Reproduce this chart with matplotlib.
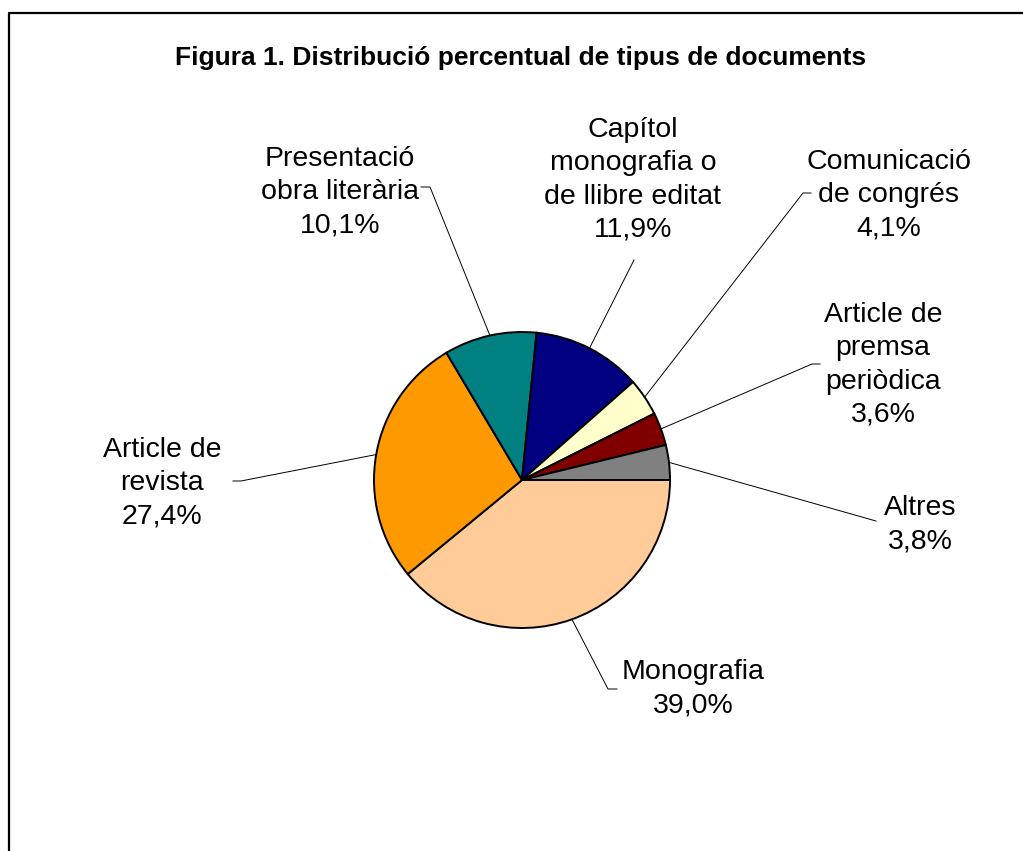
import matplotlib.pyplot as plt
import numpy as np

plt.rcParams['font.family'] = ['Liberation Sans', 'DejaVu Sans']

# data
categories = ["Monografia", "Article de\nrevista", "Presentació\nobra literària",
              "Capítol\nmonografia o\nde llibre editat", "Comunicació\nde congrés",
              "Article de\npremsa\nperiòdica", "Altres"]
percentages = [39.0, 27.4, 10.1, 11.9, 4.1, 3.6, 3.8]
colors = ["#FFCC99", "#FF9900", "#008080", "#000080", "#FFFFCC", "#800000", "#808080"]

# label layout in pixels: text centre, elbow of leader, end of leader
label_pos = [(693, 689), (162, 483), (340, 192), (633, 180), (889, 195), (883, 365), (920, 525)]
elbow_pos = [(608, 689), (241, 481), (430, 187), (634, 260), (803, 193), (812, 364), (876, 521)]
end_x = [617, 233, 421, 634, 811, 820, 876]

W, H = 1023, 851
fig = plt.figure(figsize=(W / 100, H / 100), dpi=100)
ax = fig.add_axes([0, 0, 1, 1])

cx, cy, r = 522, H - 480, 148
wedges, _ = ax.pie(percentages, colors=colors, startangle=0, counterclock=False,
                   center=(cx, cy), radius=r, frame=True,
                   wedgeprops=dict(edgecolor='black', linewidth=1.4))
ax.set_xlim(0, W)
ax.set_ylim(0, H)
ax.set_aspect('equal')
ax.axis('off')

for w, cat, pct, (tx, ty), (ex, ey), xe in zip(wedges, categories, percentages,
                                                label_pos, elbow_pos, end_x):
    ang = np.deg2rad((w.theta1 + w.theta2) / 2)
    px, py = cx + r * np.cos(ang), cy + r * np.sin(ang)
    ax.plot([px, ex, xe], [py, H - ey, H - ey], color='black', lw=0.7)
    txt = cat + "\n" + f"{pct:.1f}%".replace(".", ",")
    ax.text(tx, H - ty, txt, ha='center', va='center', multialignment='center',
            fontsize=20.5, linespacing=1.36)

ax.text(521, H - 58, "Figura 1. Distribució percentual de tipus de documents",
        ha='center', va='center', fontsize=19, fontweight='bold')

# chart frame (cut by the image edge)
ax.plot([9, 9, W + 5], [-5, H - 13, H - 13], color='black', lw=1.6, clip_on=False)

fig.savefig("out.png", dpi=100)
